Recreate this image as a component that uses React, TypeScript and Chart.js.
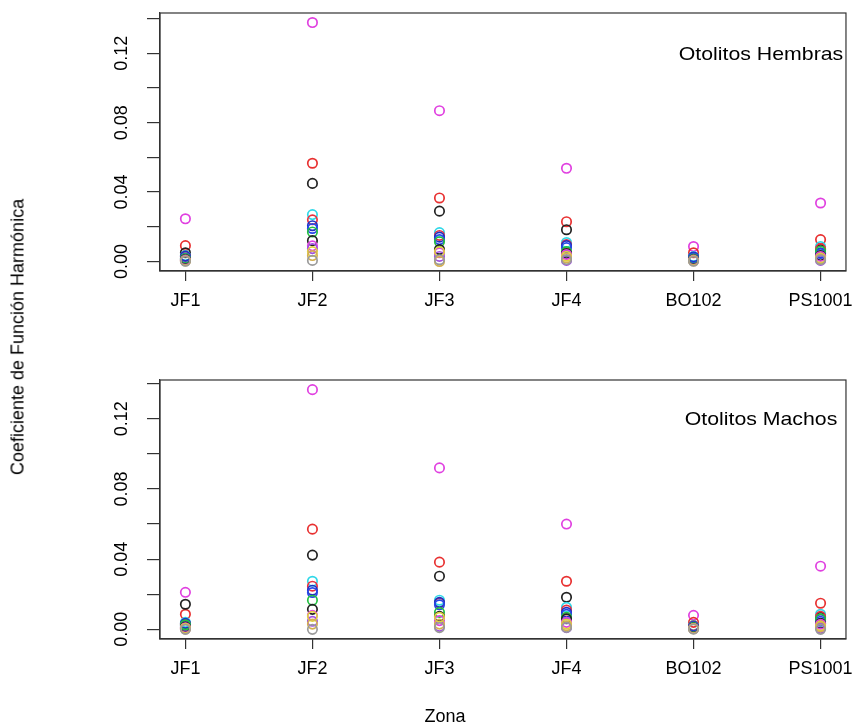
import React, { useEffect, useRef } from "react";
import { Chart, registerables } from "chart.js";

Chart.register(...registerables);

const zonas = ["JF1", "JF2", "JF3", "JF4", "BO102", "PS1001"];
const yTickValues = [0, 0.02, 0.04, 0.06, 0.08, 0.1, 0.12, 0.14];
const yLabelValues = [0, 0.04, 0.08, 0.12];

const seriesColors = [
  "#9a9a9a", "#d4b050", "#e0d040", "#a050e0", "#e040e0", "#222222", "#22c040",
  "#2848e8", "#2030c0", "#e83040", "#30d8e8", "#222222", "#e83030", "#e040e0",
];

// Otolitos Hembras (one array per series, one value per zone)
const hGray = [0.0001, 0.0006, 0.001, 0.0011, 0.0001, 0.001];
const hTan = [0.0003, 0.0034, 0.0, 0.002, 0.0003, 0.0014];
const hYellow = [0.0004, 0.0057, 0.0057, 0.003, 0.0005, 0.002];
const hPurple = [0.0006, 0.0074, 0.0029, 0.0006, 0.0006, 0.0006];
const hMagenta2 = [0.0008, 0.009, 0.005, 0.004, 0.0008, 0.0029];
const hBlack2 = [0.0011, 0.012, 0.0069, 0.0046, 0.001, 0.0034];
const hGreen = [0.0017, 0.017, 0.0114, 0.0057, 0.0014, 0.006];
const hBlue2 = [0.002, 0.019, 0.0126, 0.008, 0.002, 0.0046];
const hBlue = [0.0031, 0.0206, 0.014, 0.0091, 0.0026, 0.005];
const hRed2 = [0.0029, 0.024, 0.015, 0.0097, 0.0023, 0.0074];
const hCyan = [0.0034, 0.027, 0.0166, 0.0109, 0.0029, 0.0086];
const hBlack = [0.005, 0.045, 0.029, 0.0183, 0.0017, 0.0069];
const hRed = [0.0091, 0.0566, 0.0366, 0.0229, 0.005, 0.0126];
const hMagenta = [0.0246, 0.1377, 0.0869, 0.0537, 0.0086, 0.0337];

// Otolitos Machos
const mGray = [0.0, 0.0, 0.001, 0.0011, 0.0001, 0.0];
const mTan = [0.0002, 0.003, 0.003, 0.002, 0.0003, 0.0014];
const mYellow = [0.0006, 0.0074, 0.0069, 0.003, 0.0004, 0.002];
const mPurple = [0.0003, 0.0046, 0.0017, 0.001, 0.0005, 0.0006];
const mMagenta2 = [0.0009, 0.008, 0.005, 0.004, 0.0006, 0.0029];
const mBlack2 = [0.0014, 0.0114, 0.0074, 0.006, 0.0008, 0.0034];
const mGreen = [0.0026, 0.0166, 0.0097, 0.0069, 0.0011, 0.006];
const mBlue2 = [0.0023, 0.021, 0.014, 0.0086, 0.0014, 0.0046];
const mBlue = [0.0034, 0.0223, 0.0154, 0.0097, 0.0017, 0.0057];
const mRed2 = [0.003, 0.0246, 0.015, 0.011, 0.002, 0.0074];
const mCyan = [0.004, 0.0274, 0.0166, 0.0126, 0.0023, 0.0086];
const mBlack = [0.0143, 0.0423, 0.0303, 0.0183, 0.0017, 0.0069];
const mRed = [0.0086, 0.0571, 0.0383, 0.0274, 0.004, 0.0149];
const mMagenta = [0.0211, 0.1366, 0.092, 0.06, 0.008, 0.036];

const hembrasSeries = [hGray, hTan, hYellow, hPurple, hMagenta2, hBlack2, hGreen, hBlue2, hBlue, hRed2, hCyan, hBlack, hRed, hMagenta];
const machosSeries = [mGray, mTan, mYellow, mPurple, mMagenta2, mBlack2, mGreen, mBlue2, mBlue, mRed2, mCyan, mBlack, mRed, mMagenta];

const FONT = '"Liberation Sans", Arial, Helvetica, sans-serif';
const W = 862;

type PanelCfg = {
  height: number;
  boxTop: number;
  boxBottom: number;
  yMin: number;
  yMax: number;
  label: string;
  labelY: number;
  series: number[][];
};

function makeChart(canvas: HTMLCanvasElement, cfg: PanelCfg) {
  const datasets = cfg.series.map((vals, i) => ({
    label: "S" + (i + 1),
    data: vals.map((v, j) => ({ x: j + 1, y: v })),
    borderColor: seriesColors[i],
    backgroundColor: "rgba(0,0,0,0)",
    pointRadius: 4.7,
    pointBorderWidth: 1.7,
    pointStyle: "circle",
    showLine: false,
  }));

  const panelPlugin = {
    id: "panelDecor",
    afterDraw(chart: any) {
      const { ctx, chartArea } = chart;
      const ys = chart.scales.y;
      ctx.save();
      ctx.strokeStyle = "#333";
      ctx.lineWidth = 1.2;
      ctx.strokeRect(chartArea.left, chartArea.top, chartArea.right - chartArea.left, chartArea.bottom - chartArea.top);
      ctx.fillStyle = "#000";
      ctx.font = "18px " + FONT;
      ctx.textAlign = "center";
      ctx.textBaseline = "middle";
      yLabelValues.forEach((v) => {
        const py = ys.getPixelForValue(v);
        ctx.save();
        ctx.translate(122, py);
        ctx.rotate(-Math.PI / 2);
        ctx.fillText(v.toFixed(2), 0, 0);
        ctx.restore();
      });
      ctx.save();
      ctx.font = "19px " + FONT;
      ctx.translate(761, cfg.labelY);
      ctx.scale(1.12, 1);
      ctx.fillText(cfg.label, 0, 0);
      ctx.restore();
      ctx.restore();
    },
  };

  return new Chart(canvas, {
    type: "scatter",
    data: { datasets },
    plugins: [panelPlugin],
    options: {
      animation: false,
      responsive: false,
      devicePixelRatio: 1,
      layout: { padding: { left: 0, right: W - 851, top: cfg.boxTop, bottom: 0 } },
      plugins: { legend: { display: false }, tooltip: { enabled: false } },
      scales: {
        x: {
          type: "linear",
          min: 0.8,
          max: 6.2,
          afterBuildTicks: (scale: any) => {
            scale.ticks = zonas.map((_, i) => ({ value: i + 1 }));
          },
          afterFit: (scale: any) => {
            scale.height = cfg.height - cfg.boxBottom;
          },
          ticks: {
            autoSkip: false,
            maxRotation: 0,
            padding: 9,
            color: "#000",
            font: { size: 18, family: FONT },
            callback: (v: any) => zonas[Math.round(v) - 1] ?? "",
          },
          grid: { drawOnChartArea: false, drawTicks: true, tickLength: 10, color: "#333", lineWidth: 1.2 },
          border: { display: true, color: "#333", width: 1.2 },
        },
        y: {
          type: "linear",
          min: cfg.yMin,
          max: cfg.yMax,
          afterBuildTicks: (scale: any) => {
            scale.ticks = yTickValues.map((v) => ({ value: v }));
          },
          afterFit: (scale: any) => {
            scale.width = 160;
          },
          ticks: { display: false },
          grid: { drawOnChartArea: false, drawTicks: true, tickLength: 13, color: "#333", lineWidth: 1.2 },
          border: { display: true, color: "#333", width: 1.2 },
        },
      },
    },
  } as any);
}

export default function App() {
  const topRef = useRef<HTMLCanvasElement>(null);
  const botRef = useRef<HTMLCanvasElement>(null);

  useEffect(() => {
    const c1 = makeChart(topRef.current!, {
      height: 340,
      boxTop: 13,
      boxBottom: 271,
      yMin: -0.0055,
      yMax: 0.1432,
      label: "Otolitos Hembras",
      labelY: 55,
      series: hembrasSeries,
    });
    const c2 = makeChart(botRef.current!, {
      height: 385,
      boxTop: 40,
      boxBottom: 299,
      yMin: -0.0055,
      yMax: 0.1421,
      label: "Otolitos Machos",
      labelY: 80,
      series: machosSeries,
    });
    return () => {
      c1.destroy();
      c2.destroy();
    };
  }, []);

  return (
    <div style={{ position: "absolute", left: 0, top: 0, width: W, height: 725, background: "#fff", fontFamily: FONT }}>
      <canvas ref={topRef} width={W} height={340} style={{ position: "absolute", left: 0, top: 0, width: W, height: 340 }} />
      <canvas ref={botRef} width={W} height={385} style={{ position: "absolute", left: 0, top: 340, width: W, height: 385 }} />
      <div
        style={{
          position: "absolute",
          left: 18,
          top: 337,
          transform: "translate(-50%, -50%) rotate(-90deg)",
          whiteSpace: "nowrap",
          fontSize: 18,
          color: "#000",
        }}
      >
        Coeficiente de Función Harmónica
      </div>
      <div
        style={{
          position: "absolute",
          left: 445,
          top: 716,
          transform: "translate(-50%, -50%)",
          whiteSpace: "nowrap",
          fontSize: 18,
          color: "#000",
        }}
      >
        Zona
      </div>
    </div>
  );
}
